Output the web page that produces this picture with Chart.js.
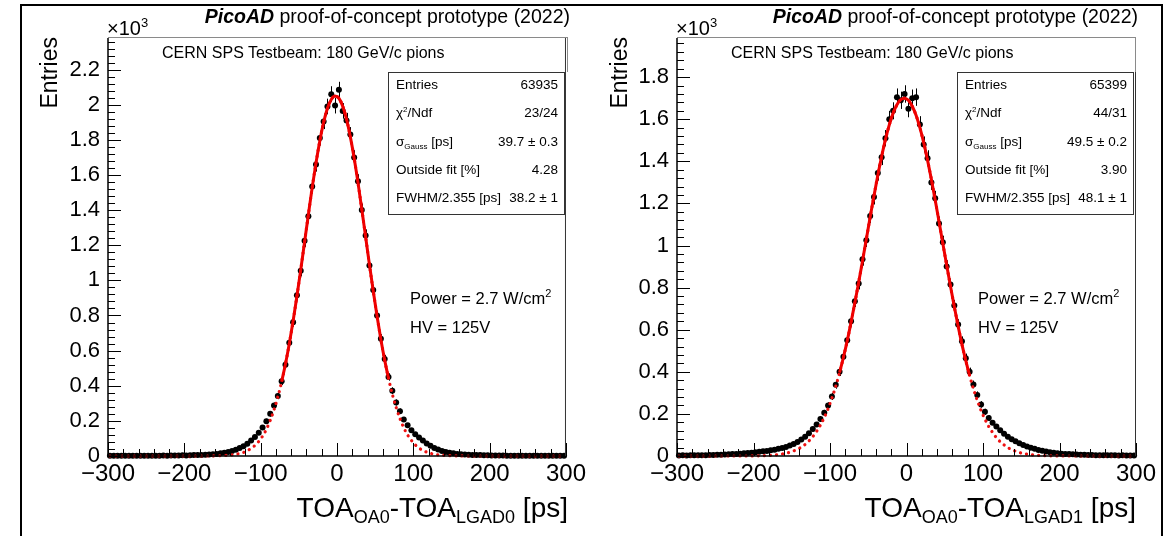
<!DOCTYPE html>
<html lang="en">
<head>
<meta charset="utf-8">
<title>PicoAD timing resolution</title>
<script src="https://cdn.jsdelivr.net/npm/chart.js@4.4.1/dist/chart.umd.min.js"></script>
<style>
  html, body { margin:0; padding:0; background:#fff; }
  body { position:relative; width:1173px; height:536px; overflow:hidden; font-family:"Liberation Sans", Arial, Helvetica, sans-serif; color:#000; }
  canvas { position:absolute; top:0; }
  #c1 { left:0; }
  #c2 { left:590px; }
  .t { position:absolute; white-space:nowrap; line-height:1; }
  .title { font-size:19.5px; top:7px; }
  .title b { font-style:italic; }
  .exp { font-size:20px; top:18px; }
  .exp sup { font-size:13px; vertical-align:8px; line-height:0; }
  .ytitle { font-size:23px; writing-mode:vertical-rl; transform:rotate(180deg); top:37px; }
  .xtitle { font-size:28px; top:494px; }
  .xtitle sub { font-size:18px; vertical-align:-6px; line-height:0; }
  .pave { position:absolute; top:37px; height:35px; border-top:1px solid #8a8a8a; border-right:1px solid #8a8a8a; box-sizing:border-box; }
  .cern { font-size:16px; top:45px; }
  .stats { position:absolute; top:72px; height:143px; background:#fff; border:1.5px solid #333; box-sizing:border-box; font-size:13.5px; }
  .row { position:absolute; left:0; right:0; height:14px; line-height:1; white-space:nowrap; }
  .row .l { position:absolute; left:7px; }
  .row .r { position:absolute; right:6px; }
  .row sup { font-size:8px; vertical-align:5px; line-height:0; }
  .row sub { font-size:8px; vertical-align:-3px; line-height:0; }
  .power { font-size:16.5px; }
  .power sup { font-size:11px; vertical-align:7px; line-height:0; }
  .frame { position:absolute; left:20px; top:4px; width:1143px; height:600px; border:2px solid #000; box-sizing:border-box; }
</style>
</head>
<body>
<canvas id="c1" width="590" height="536"></canvas>
<canvas id="c2" width="583" height="536"></canvas>

<div class="frame"></div>

<!-- left panel annotations -->
<div class="t title" style="right:603px;"><b>PicoAD</b> proof-of-concept prototype (2022)</div>
<div class="t exp" style="left:107px;">×10<sup>3</sup></div>
<div class="t ytitle" style="left:38px;">Entries</div>
<div class="pave" style="left:108px; width:460px;"></div>
<div class="t cern" style="left:162px;">CERN SPS Testbeam: 180 GeV/c pions</div>
<div class="stats" id="stats1" style="left:388px; width:177px;"></div>
<div class="t power" style="left:410px; top:290px;">Power = 2.7 W/cm<sup>2</sup></div>
<div class="t power" style="left:410px; top:319px;">HV = 125V</div>
<div class="t xtitle" style="right:605px;">TOA<sub>OA0</sub>-TOA<sub>LGAD0</sub> [ps]</div>

<!-- right panel annotations -->
<div class="t title" style="right:35px;"><b>PicoAD</b> proof-of-concept prototype (2022)</div>
<div class="t exp" style="left:676px;">×10<sup>3</sup></div>
<div class="t ytitle" style="left:608px;">Entries</div>
<div class="pave" style="left:677px; width:459px;"></div>
<div class="t cern" style="left:731px;">CERN SPS Testbeam: 180 GeV/c pions</div>
<div class="stats" id="stats2" style="left:957px; width:177px;"></div>
<div class="t power" style="left:978px; top:290px;">Power = 2.7 W/cm<sup>2</sup></div>
<div class="t power" style="left:978px; top:319px;">HV = 125V</div>
<div class="t xtitle" style="right:37px;">TOA<sub>OA0</sub>-TOA<sub>LGAD1</sub> [ps]</div>

<script>
// ---------------- data ----------------
const binCenters = [
  -297.5,-292.5,-287.5,-282.5,-277.5,-272.5,-267.5,-262.5,-257.5,-252.5,
  -247.5,-242.5,-237.5,-232.5,-227.5,-222.5,-217.5,-212.5,-207.5,-202.5,
  -197.5,-192.5,-187.5,-182.5,-177.5,-172.5,-167.5,-162.5,-157.5,-152.5,
  -147.5,-142.5,-137.5,-132.5,-127.5,-122.5,-117.5,-112.5,-107.5,-102.5,
  -97.5,-92.5,-87.5,-82.5,-77.5,-72.5,-67.5,-62.5,-57.5,-52.5,
  -47.5,-42.5,-37.5,-32.5,-27.5,-22.5,-17.5,-12.5,-7.5,-2.5,
  2.5,7.5,12.5,17.5,22.5,27.5,32.5,37.5,42.5,47.5,
  52.5,57.5,62.5,67.5,72.5,77.5,82.5,87.5,92.5,97.5,
  102.5,107.5,112.5,117.5,122.5,127.5,132.5,137.5,142.5,147.5,
  152.5,157.5,162.5,167.5,172.5,177.5,182.5,187.5,192.5,197.5,
  202.5,207.5,212.5,217.5,222.5,227.5,232.5,237.5,242.5,247.5,
  252.5,257.5,262.5,267.5,272.5,277.5,282.5,287.5,292.5,297.5
];

// TOA_OA0 - TOA_LGAD0 : entries per bin
const countsLGAD0 = [
  1,2,1,2,1,2,2,1,2,2,
  2,1,2,2,3,2,3,3,3,4,
  3,4,5,5,6,7,8,10,12,15,
  19,23,29,36,45,56,70,88,108,132,
  162,198,240,288,342,425,520,645,762,915,
  1055,1225,1365,1535,1660,1810,1905,1990,2060,1995,
  2085,1965,1910,1830,1700,1565,1400,1255,1085,945,
  800,668,552,450,372,305,255,208,175,146,
  124,106,88,71,58,46,37,29,23,18,
  15,12,10,8,7,6,5,5,4,4,
  3,3,3,3,2,2,2,2,2,1,
  2,2,1,2,1,1,2,1,1,2
];
// Gaussian fit curve, LGAD0 panel
const fitLGAD0 = [
  0,0,0,0,0,0,0,0,0,0,
  0,0,0,0,0,0,0,0,0,0,
  0,0,0,0,0,0,0.2,0.5,0.9,1.5,
  2.5,3.9,6,9,14,20,30,43,60,83,
  113,152,202,263,336,423,524,639,768,909,
  1060,1217,1374,1528,1669,1794,1900,1980,2030,2050,
  2037,1992,1918,1817,1696,1557,1405,1248,1090,939,
  796,664,546,442,352,277,213,161,120,89,
  64,45,32,22,15,10,6.6,4.3,2.7,1.7,
  1.0,0.6,0.3,0.2,0,0,0,0,0,0,
  0,0,0,0,0,0,0,0,0,0,
  0,0,0,0,0,0,0,0,0,0
];

// TOA_OA0 - TOA_LGAD1 : entries per bin
const countsLGAD1 = [
  2,3,2,3,3,4,3,4,5,5,
  6,6,7,8,9,10,11,13,14,16,
  18,20,22,24,27,30,34,38,43,50,
  57,66,78,92,108,128,150,176,205,240,
  283,338,400,472,550,640,735,820,935,1025,
  1140,1230,1345,1420,1510,1600,1640,1705,1690,1720,
  1650,1700,1705,1575,1480,1415,1300,1225,1105,1015,
  900,815,715,625,545,465,400,340,290,245,
  210,180,158,140,122,106,92,80,70,60,
  52,45,39,34,29,25,21,18,15,13,
  11,10,9,8,7,6,6,5,5,4,
  4,3,4,3,3,2,3,2,2,2
];
// Gaussian fit curve, LGAD1 panel
const fitLGAD1 = [
  0,0,0,0,0,0,0,0,0,0,
  0,0,0,0,0,0,0,0,0.1,0.3,
  0.7,1.1,1.6,2.4,3.4,4.8,6.8,9.4,13,17.7,
  24,32,42,55,72,92,117,147,183,225,
  275,331,396,468,547,635,728,826,927,1031,
  1135,1236,1334,1423,1504,1573,1629,1669,1693,1700,
  1690,1662,1619,1560,1489,1406,1315,1216,1114,1010,
  907,806,709,617,530,453,382,319,264,216,
  175,140,112,87,68,53,40,30,22.6,16.6,
  12.2,8.9,6.3,4.5,3.2,2.2,1.5,1.0,0.7,0.4,
  0.2,0.1,0,0,0,0,0,0,0,0,
  0,0,0,0,0,0,0,0,0,0
];

// fit ranges (solid part of the red curve), ps
const fitRangeLGAD0 = [-75, 70];
const fitRangeLGAD1 = [-88, 85];

// axis ranges and tick values
const xRange = [-300, 300];
const xTickValues = [-300, -200, -100, 0, 100, 200, 300];
const xMinorStep = 20;
const yMaxLGAD0 = 2380;
const yMaxLGAD1 = 1986;
const yTickValuesLGAD0 = [0, 200, 400, 600, 800, 1000, 1200, 1400, 1600, 1800, 2000, 2200];
const yTickValuesLGAD1 = [0, 200, 400, 600, 800, 1000, 1200, 1400, 1600, 1800];
const yMinorStep = 40;

// statistics box
const statLabels = ['Entries', 'χ<sup>2</sup>/Ndf', 'σ<sub>Gauss</sub> [ps]', 'Outside fit [%]', 'FWHM/2.355 [ps]'];
const statsLGAD0 = ['63935', '23/24', '39.7 ± 0.3', '4.28', '38.2 ± 1'];
const statsLGAD1 = ['65399', '44/31', '49.5 ± 0.2', '3.90', '48.1 ± 1'];

// ---------------- stats boxes ----------------
const rowTops = [5, 33, 62, 90, 118];
function fillStats(id, vals) {
  const box = document.getElementById(id);
  statLabels.forEach((lab, i) => {
    const r = document.createElement('div');
    r.className = 'row';
    r.style.top = rowTops[i] + 'px';
    r.innerHTML = '<span class="l">' + lab + '</span><span class="r">' + vals[i] + '</span>';
    box.appendChild(r);
  });
}
fillStats('stats1', statsLGAD0);
fillStats('stats2', statsLGAD1);

// ---------------- plugins ----------------
const errorBars = {
  id: 'errorBars',
  beforeDatasetsDraw(chart) {
    const idx = chart.data.datasets.findIndex(d => d.errorBars);
    if (idx < 0) return;
    const ds = chart.data.datasets[idx];
    const meta = chart.getDatasetMeta(idx);
    const ys = chart.scales.y;
    const ctx = chart.ctx;
    ctx.save();
    ctx.strokeStyle = '#000';
    ctx.lineWidth = 1;
    ctx.beginPath();
    meta.data.forEach((el, i) => {
      const v = ds.data[i].y;
      const e = Math.sqrt(v);
      const px = Math.round(el.x) + 0.5;
      ctx.moveTo(px, ys.getPixelForValue(v + e));
      ctx.lineTo(px, ys.getPixelForValue(Math.max(0, v - e)));
    });
    ctx.stroke();
    ctx.restore();
  }
};

const rootFrame = {
  id: 'rootFrame',
  afterDatasetsDraw(chart) {
    const { ctx, chartArea: a, scales: { x, y } } = chart;
    const MAJ = 13, MIN = 7;
    const yMajors = y.ticks.map(t => t.value);
    const xMajors = x.ticks.map(t => t.value);
    ctx.save();
    ctx.strokeStyle = '#000';
    ctx.lineWidth = 1;
    ctx.beginPath();
    for (let k = 0; k * yMinorStep <= y.max; k++) {
      const v = k * yMinorStep;
      const p = Math.round(y.getPixelForValue(v)) + 0.5;
      ctx.moveTo(a.left, p);
      ctx.lineTo(a.left + (yMajors.includes(v) ? MAJ : MIN), p);
    }
    for (let k = 0; x.min + k * xMinorStep <= x.max; k++) {
      const v = x.min + k * xMinorStep;
      const p = Math.round(x.getPixelForValue(v)) + 0.5;
      ctx.moveTo(p, a.bottom);
      ctx.lineTo(p, a.bottom - (xMajors.includes(v) ? MAJ : MIN));
    }
    ctx.stroke();
    ctx.lineWidth = 1.5;
    ctx.beginPath();
    ctx.moveTo(a.left, a.top);
    ctx.lineTo(a.left, a.bottom);
    ctx.lineTo(a.right, a.bottom);
    ctx.stroke();
    ctx.lineWidth = 1;
    ctx.strokeStyle = '#333';
    ctx.beginPath();
    ctx.moveTo(a.right - 0.5, a.bottom);
    ctx.lineTo(a.right - 0.5, a.top);
    ctx.stroke();
    ctx.restore();
  }
};

// ---------------- charts ----------------
Chart.defaults.font.family = '"Liberation Sans", Arial, Helvetica, sans-serif';
Chart.defaults.color = '#000';

function toPoints(ys) { return binCenters.map((x, i) => ({ x: x, y: ys[i] })); }
function inRange(ys, r) { return toPoints(ys).filter(p => p.x >= r[0] && p.x <= r[1]); }
function fmtX(v) { return v < 0 ? '\u2212' + Math.abs(v) : String(v); }
function fmtY(v) { return v === 0 ? '0' : String(+(v / 1000).toFixed(1)); }

function buildChart(id, counts, fit, range, yMax, yTicks, yAxisWidth, padRight) {
  return new Chart(document.getElementById(id), {
    type: 'scatter',
    data: {
      datasets: [
        { label: 'fit', data: inRange(fit, range), showLine: true, borderColor: '#ee0000', borderWidth: 3,
          pointRadius: 0, cubicInterpolationMode: 'monotone', clip: false },
        { label: 'fit extension', data: toPoints(fit), showLine: true, borderColor: '#ee1111', borderWidth: 3.2,
          borderDash: [0.1, 6], borderCapStyle: 'round', pointRadius: 0, cubicInterpolationMode: 'monotone', clip: false },
        { label: 'data', data: toPoints(counts), showLine: false, pointRadius: 3, pointBackgroundColor: '#000',
          pointBorderWidth: 0, errorBars: true, clip: false }
      ]
    },
    options: {
      responsive: false,
      animation: false,
      events: [],
      layout: { padding: { left: 0, top: 38, right: padRight, bottom: 0 } },
      plugins: { legend: { display: false }, tooltip: { enabled: false } },
      scales: {
        x: {
          type: 'linear', min: xRange[0], max: xRange[1],
          grid: { display: false, drawTicks: false },
          border: { display: false },
          afterBuildTicks: s => { s.ticks = xTickValues.map(v => ({ value: v })); },
          ticks: { font: { size: 24 }, color: '#000', padding: 4,
                   maxRotation: 0, autoSkip: false, callback: v => fmtX(v) },
          afterFit: s => { s.height = 80; }
        },
        y: {
          type: 'linear', min: 0, max: yMax,
          grid: { display: false, drawTicks: false },
          border: { display: false },
          afterBuildTicks: s => { s.ticks = yTicks.map(v => ({ value: v })); },
          ticks: { font: { size: 22 }, color: '#000', padding: 8,
                   autoSkip: false, callback: v => fmtY(v) },
          afterFit: s => { s.width = yAxisWidth; }
        }
      }
    },
    plugins: [errorBars, rootFrame]
  });
}

buildChart('c1', countsLGAD0, fitLGAD0, fitRangeLGAD0, yMaxLGAD0, yTickValuesLGAD0, 108, 22);
buildChart('c2', countsLGAD1, fitLGAD1, fitRangeLGAD1, yMaxLGAD1, yTickValuesLGAD1, 87, 37);
</script>
</body>
</html>
